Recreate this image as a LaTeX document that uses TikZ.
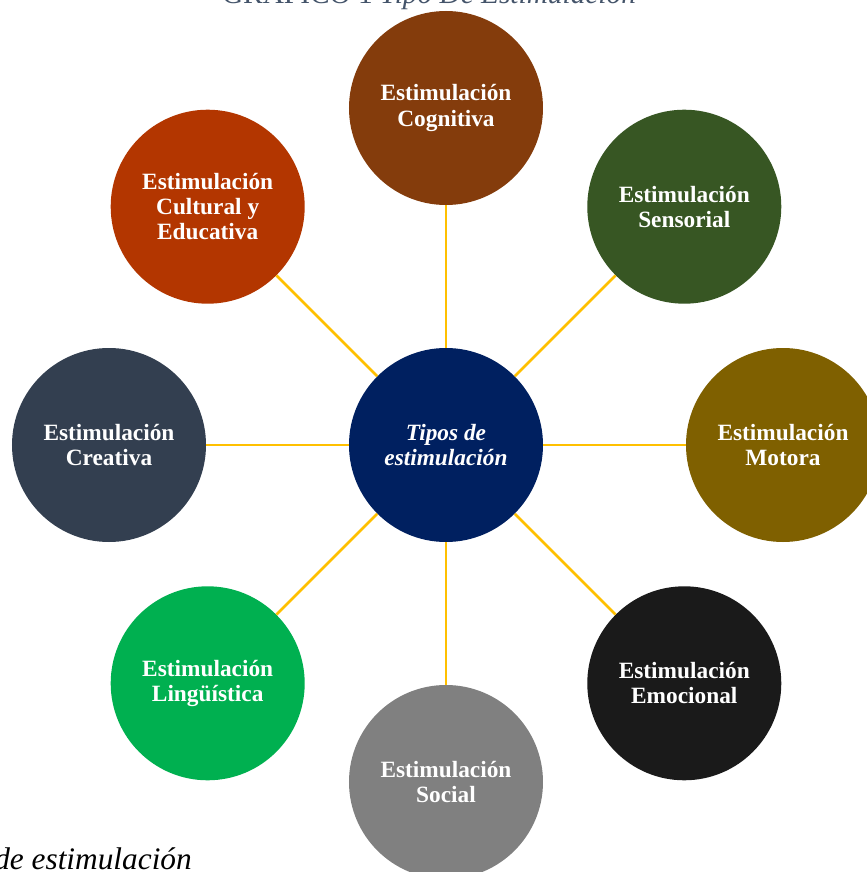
\documentclass[tikz,border=0pt]{standalone}
\usepackage{fontspec}
\setmainfont{Liberation Serif}
\usepackage{xcolor}
\usetikzlibrary{positioning,calc}
\definecolor{hubblue}{HTML}{002060}
\definecolor{cogbrown}{HTML}{843C0C}
\definecolor{sensgreen}{HTML}{375623}
\definecolor{motgold}{HTML}{7F6000}
\definecolor{emoblack}{HTML}{1A1A1A}
\definecolor{socgrey}{HTML}{808080}
\definecolor{linggreen}{HTML}{00B050}
\definecolor{creaslate}{HTML}{333F50}
\definecolor{cultorange}{HTML}{B33600}
\definecolor{spoke}{HTML}{FFC000}
\definecolor{captiongrey}{HTML}{44546A}
\tikzset{
  bubble/.style={
    circle,
    minimum size=194\unit,
    inner sep=0pt,
    align=center,
    text=white,
    font=\fontsize{17.5}{18.8}\selectfont\bfseries
  },
  hub/.style={
    bubble,
    fill=hubblue,
    font=\fontsize{17.5}{18.8}\selectfont\bfseries\itshape
  },
  link/.style={draw=spoke,line width=1.9pt}
}
\newlength{\unit}
\setlength{\unit}{0.75pt}

\begin{document}
\begin{tikzpicture}[x=\unit,y=\unit]
  \useasboundingbox (-446,-427) rectangle (421,445);
  \clip (-446,-427) rectangle (421,445);
  \fill[white] (-446,-427) rectangle (421,445);
  % caption fragments
  \node[anchor=base,text=captiongrey,font=\fontsize{22}{26}\selectfont] (caption) at (-17,441)
    {GRÁFICO 1 \textit{Tipo De Estimulación}};
  \node[anchor=base west,inner sep=0pt,font=\fontsize{23.5}{28}\selectfont\itshape] (note) at (-452,-424)
    {de estimulación};
  % hub and bubbles
  \node[hub] (tipos) at (0,0) {Tipos de\\estimulación};
  \node[bubble,fill=cogbrown] (cog) at (90:337) {Estimulación\\Cognitiva};
  \node[bubble,fill=sensgreen] (sens) at (45:337) {Estimulación\\Sensorial};
  \node[bubble,fill=motgold] (mot) at (0:337) {Estimulación\\Motora};
  \node[bubble,fill=emoblack] (emo) at (-45:337) {Estimulación\\Emocional};
  \node[bubble,fill=socgrey] (soc) at (-90:337) {Estimulación\\Social};
  \node[bubble,fill=linggreen] (ling) at (-135:337) {Estimulación\\Lingüística};
  \node[bubble,fill=creaslate] (crea) at (180:337) {Estimulación\\Creativa};
  \node[bubble,fill=cultorange] (cult) at (135:337) {Estimulación\\Cultural y\\Educativa};
  % spokes
  \draw[link] (tipos) -- (cog);
  \draw[link] (tipos) -- (sens);
  \draw[link] (tipos) -- (mot);
  \draw[link] (tipos) -- (emo);
  \draw[link] (tipos) -- (soc);
  \draw[link] (tipos) -- (ling);
  \draw[link] (tipos) -- (crea);
  \draw[link] (tipos) -- (cult);
\end{tikzpicture}
\end{document}
